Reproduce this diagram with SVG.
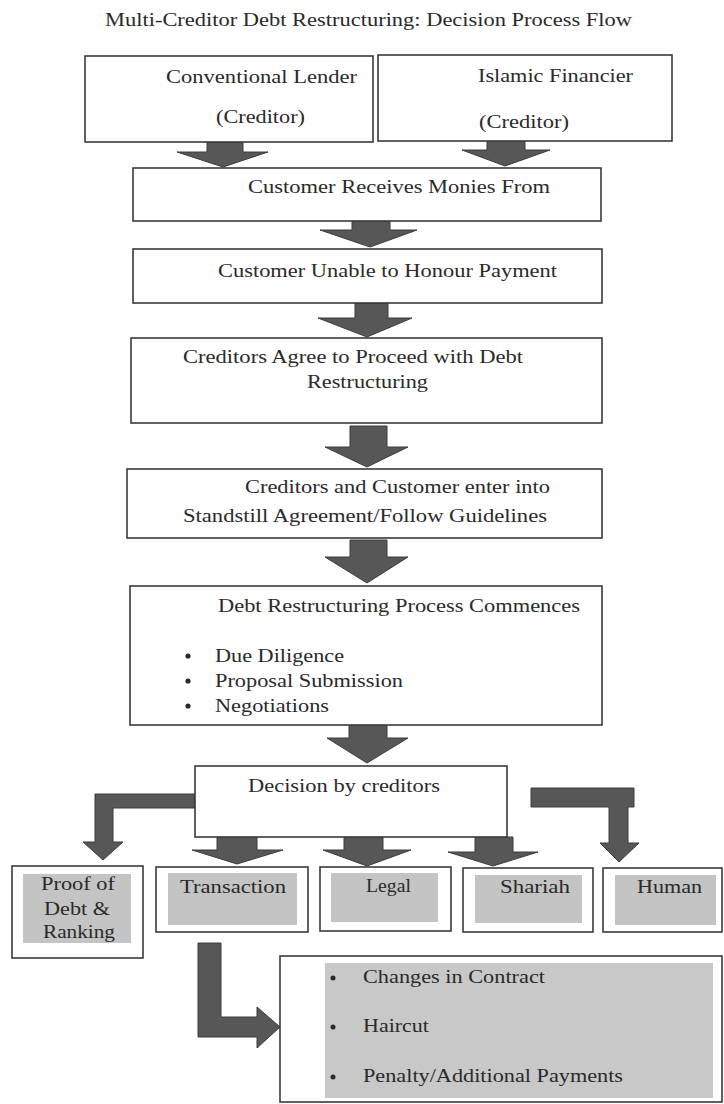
<svg xmlns="http://www.w3.org/2000/svg" width="724" height="1104" viewBox="0 0 724 1104">
<style>
.box{fill:#ffffff;stroke:#3a3a3a;stroke-width:1.6}
.inner{fill:#c4c4c4;stroke:none}
.innerb{fill:#c8c8c8;stroke:none}
.arr{fill:#575757;stroke:#3c3c3c;stroke-width:1}
text{font-family:"Liberation Serif","Times New Roman",serif;font-size:19px;fill:#2a2a2a}
.t{font-size:19.5px}
.s{font-size:18px}
.dot{fill:#2a2a2a}
</style>
<rect x="0" y="0" width="724" height="1104" fill="#ffffff"/>
<text id="title" x="105" y="26" textLength="527" lengthAdjust="spacingAndGlyphs" class="t">Multi-Creditor Debt Restructuring: Decision Process Flow</text>

<g id="connectors">
<polygon class="arr" points="207,142 243,142 243,152 268,152 223,167 177,152 207,152"/>
<polygon class="arr" points="487,141 525,141 525,150 550,150 505,166 462,150 487,150"/>
<polygon class="arr" points="352,221 390,221 390,230 417,230 370,247 320,230 352,230"/>
<polygon class="arr" points="355,303 388,303 388,318 412,318 367,337 318,318 355,318"/>
<polygon class="arr" points="350,426 387,426 387,447 408,447 367,467 325,447 350,447"/>
<polygon class="arr" points="350,540 387,540 387,557 408,557 367,583 325,557 350,557"/>
<polygon class="arr" points="349,725 387,725 387,738 408,738 367,763 327,738 349,738"/>
<polygon class="arr" points="195,794 95,794 95,842 83,842 103,860 123,842 113,842 113,808 195,808"/>
<polygon class="arr" points="531,788 634,788 634,807 628,807 628,843 639,843 619,862 600,843 609,843 609,807 531,807"/>
<polygon class="arr" points="217,837 257,837 257,850 283,850 237,864 192,850 217,850"/>
<polygon class="arr" points="344,837 383,837 383,850 411,850 367,866 323,850 344,850"/>
<polygon class="arr" points="475,837 513,837 513,852 538,852 493,866 448,852 475,852"/>
<polygon class="arr" points="198,943 221,943 221,1017 257,1017 257,1007 280,1027 257,1048 257,1037 198,1037"/>
</g>

<g id="conventional">
<rect class="box" x="85" y="56" width="288" height="86"/>
<text x="166" y="83" textLength="191" lengthAdjust="spacingAndGlyphs">Conventional Lender</text>
<text x="216" y="123" textLength="89" lengthAdjust="spacingAndGlyphs">(Creditor)</text>
</g>
<g id="islamic">
<rect class="box" x="378" y="55" width="294" height="86"/>
<text x="478" y="82" textLength="155" lengthAdjust="spacingAndGlyphs">Islamic Financier</text>
<text x="479" y="128" textLength="90" lengthAdjust="spacingAndGlyphs">(Creditor)</text>
</g>
<g id="receives">
<rect class="box" x="133" y="168" width="468" height="53"/>
<text x="248" y="193" textLength="302" lengthAdjust="spacingAndGlyphs">Customer Receives Monies From</text>
</g>
<g id="unable">
<rect class="box" x="133" y="249" width="469" height="54"/>
<text x="218" y="277" textLength="339" lengthAdjust="spacingAndGlyphs">Customer Unable to Honour Payment</text>
</g>
<g id="agree">
<rect class="box" x="131" y="338" width="471" height="85"/>
<text x="183" y="363" textLength="340" lengthAdjust="spacingAndGlyphs">Creditors Agree to Proceed with Debt</text>
<text x="307" y="388" textLength="121" lengthAdjust="spacingAndGlyphs">Restructuring</text>
</g>
<g id="standstill">
<rect class="box" x="127" y="469" width="475" height="69"/>
<text x="245" y="493" textLength="305" lengthAdjust="spacingAndGlyphs">Creditors and Customer enter into</text>
<text x="183" y="522" textLength="364" lengthAdjust="spacingAndGlyphs">Standstill Agreement/Follow Guidelines</text>
</g>
<g id="process">
<rect class="box" x="130" y="586" width="472" height="139"/>
<text x="218" y="612" textLength="362" lengthAdjust="spacingAndGlyphs">Debt Restructuring Process Commences</text>
<circle class="dot" cx="188" cy="656" r="2.6"/>
<circle class="dot" cx="188" cy="681" r="2.6"/>
<circle class="dot" cx="188" cy="706" r="2.6"/>
<text x="215" y="662" textLength="129" lengthAdjust="spacingAndGlyphs">Due Diligence</text>
<text x="215" y="687" textLength="188" lengthAdjust="spacingAndGlyphs">Proposal Submission</text>
<text x="215" y="712" textLength="114" lengthAdjust="spacingAndGlyphs">Negotiations</text>
</g>
<g id="decision">
<rect class="box" x="195" y="766" width="312" height="71"/>
<text x="248" y="792" textLength="192" lengthAdjust="spacingAndGlyphs">Decision by creditors</text>
</g>
<g id="proof">
<rect class="box" x="12" y="866" width="131" height="92"/>
<rect class="inner" x="23" y="874" width="108" height="69"/>
<text x="41" y="890" textLength="74" lengthAdjust="spacingAndGlyphs" class="s">Proof of</text>
<text x="44" y="915" textLength="66" lengthAdjust="spacingAndGlyphs" class="s">Debt &amp;</text>
<text x="43" y="938" textLength="72" lengthAdjust="spacingAndGlyphs" class="s">Ranking</text>
</g>
<g id="transaction">
<rect class="box" x="156" y="867" width="152" height="65"/>
<rect class="inner" x="168" y="873" width="129" height="52"/>
<text x="180" y="893" textLength="106" lengthAdjust="spacingAndGlyphs" class="s">Transaction</text>
</g>
<g id="legal">
<rect class="box" x="320" y="867" width="131" height="64"/>
<rect class="inner" x="331" y="873" width="107" height="49"/>
<text x="366" y="892" textLength="45" lengthAdjust="spacingAndGlyphs" class="s">Legal</text>
</g>
<g id="shariah">
<rect class="box" x="463" y="868" width="130" height="64"/>
<rect class="inner" x="475" y="875" width="107" height="48"/>
<text x="500" y="893" textLength="70" lengthAdjust="spacingAndGlyphs" class="s">Shariah</text>
</g>
<g id="human">
<rect class="box" x="603" y="868" width="119" height="64"/>
<rect class="inner" x="615" y="875" width="101" height="50"/>
<text x="637" y="893" textLength="65" lengthAdjust="spacingAndGlyphs" class="s">Human</text>
</g>
<g id="outcomes">
<rect class="box" x="280" y="956" width="442" height="146"/>
<rect class="innerb" x="325" y="963" width="388" height="135"/>
<circle class="dot" cx="333" cy="978" r="2.5"/>
<circle class="dot" cx="333" cy="1027" r="2.5"/>
<circle class="dot" cx="333" cy="1077" r="2.5"/>
<text x="363" y="983" textLength="182" lengthAdjust="spacingAndGlyphs" class="s">Changes in Contract</text>
<text x="363" y="1032" textLength="66" lengthAdjust="spacingAndGlyphs" class="s">Haircut</text>
<text x="363" y="1082" textLength="260" lengthAdjust="spacingAndGlyphs" class="s">Penalty/Additional Payments</text>
</g>
</svg>
